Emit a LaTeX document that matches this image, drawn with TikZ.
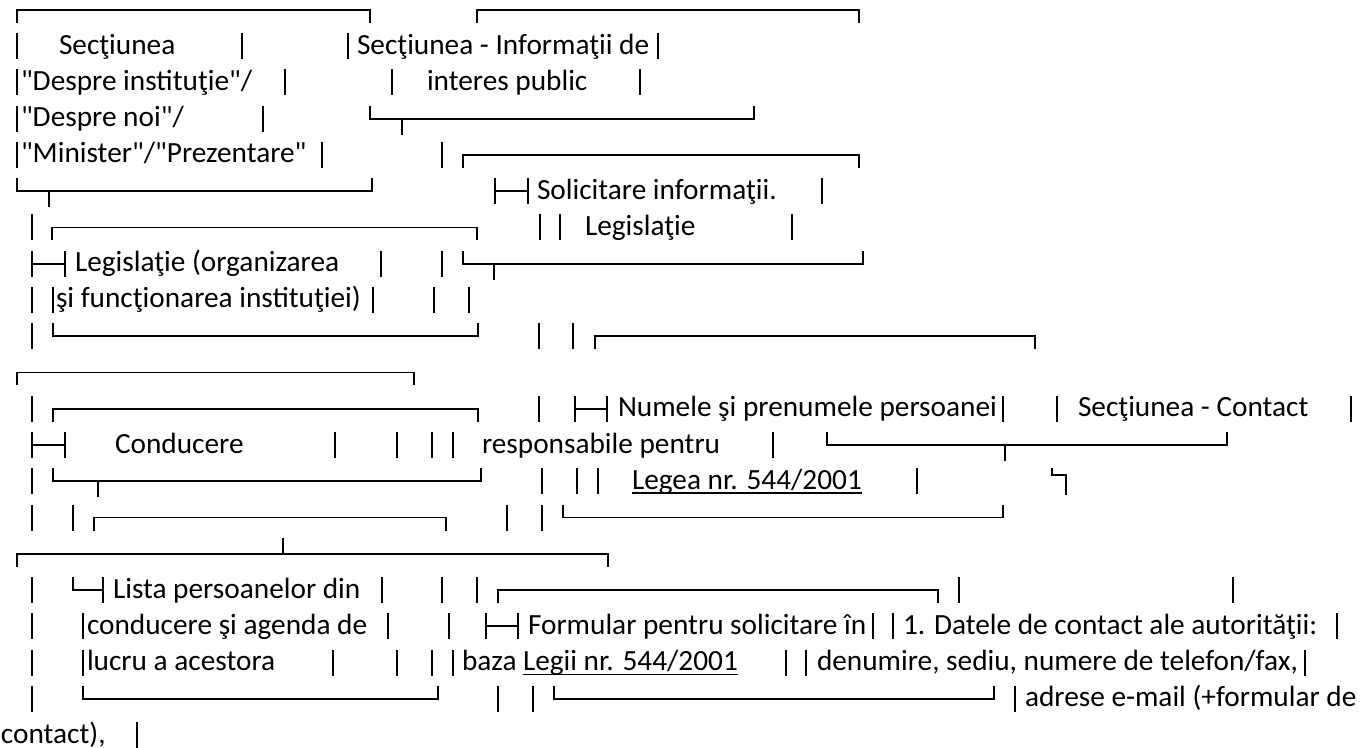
\documentclass[tikz,border=0pt]{standalone}
\usepackage{fontspec}
\setmainfont{Carlito}[Ligatures=TeXOff]

% one unit = one pixel of the text picture, rows run downwards
\newcommand\ry[1]{(10+36.25*(#1))}
\newcommand\glbar[2]{\draw[glyph] (#1,{\ry{#2}-13}) -- (#1,{\ry{#2}+13});}
\newcommand\gltop[3]{\draw[glyph] (#1,{\ry{#3}+13}) -- (#1,{\ry{#3}}) -- (#2,{\ry{#3}}) -- (#2,{\ry{#3}+13});}
\newcommand\glbot[3]{\draw[glyph] (#1,{\ry{#3}-13}) -- (#1,{\ry{#3}}) -- (#2,{\ry{#3}}) -- (#2,{\ry{#3}-13});}
\newcommand\gltee[2]{\draw[glyph] (#1,{\ry{#2}}) -- (#1,{\ry{#2}+16});}
\newcommand\glteeup[2]{\draw[glyph] (#1,{\ry{#2}-16}) -- (#1,{\ry{#2}});}
\newcommand\glbranch[3]{\glbar{#1}{#3}\glbar{#2}{#3}\draw[glyph] (#1,{\ry{#3}}) -- (#2,{\ry{#3}});}
\newcommand\gltext[4]{\node[txt] (#1) at (#2,{\ry{#3}+8}) {#4};}

\tikzset{
    glyph/.style={line width=0.9pt, line cap=butt},
    txt/.style={anchor=base west, inner sep=0pt, outer sep=0pt,
        font=\fontsize{14.65}{17}\selectfont},
    ulline/.style={line width=0.9pt}
}

\begin{document}
\begin{tikzpicture}[x=0.5pt, y=-0.5pt]
    \useasboundingbox (0,0) rectangle (1360,748);

    % row 0
    \gltop{17}{370}{0}
    \gltop{477}{859}{0}
    % row 1
    \glbar{17}{1} \gltext{secA}{59}{1}{Secţiunea} \glbar{242}{1}
    \glbar{348}{1} \gltext{secB}{357}{1}{Secţiunea - Informaţii de} \glbar{658}{1}
    % row 2
    \glbar{17}{2} \gltext{despreA}{21}{2}{"Despre instituţie"/} \glbar{285}{2}
    \glbar{392}{2} \gltext{interes}{427}{2}{interes public} \glbar{640}{2}
    % row 3
    \glbar{17}{3} \gltext{despreB}{21}{3}{"Despre noi"/} \glbar{263}{3}
    \glbot{370}{754}{3} \gltee{402}{3}
    % row 4
    \glbar{17}{4} \gltext{minister}{21}{4}{"Minister"/"Prezentare"} \glbar{322}{4}
    \glbar{442}{4} \gltop{463}{859}{4}
    % row 5
    \glbot{17}{372}{5} \gltee{49}{5}
    \glbranch{495}{528}{5} \gltext{solicit}{537}{5}{Solicitare informaţii.} \glbar{822}{5}
    % row 6
    \glbar{32}{6} \gltop{52}{477}{6}
    \glbar{540}{6} \glbar{560}{6} \gltext{legisA}{585}{6}{Legislaţie} \glbar{792}{6}
    % row 7
    \glbranch{32}{65}{7} \gltext{legisB}{75}{7}{Legislaţie (organizarea} \glbar{381}{7}
    \glbar{442}{7} \glbot{463}{863}{7} \gltee{494}{7}
    % row 8
    \glbar{32}{8} \glbar{53}{8} \gltext{functio}{56}{8}{şi funcţionarea instituţiei)} \glbar{373}{8}
    \glbar{434}{8} \glbar{469}{8}
    % row 9
    \glbar{32}{9} \glbot{53}{478}{9}
    \glbar{539}{9} \glbar{573}{9} \gltop{595}{1035}{9}
    % row 10
    \gltop{17}{414}{10}
    % row 11
    \glbar{32}{11} \gltop{53}{478}{11}
    \glbar{539}{11} \glbranch{575}{607}{11} \gltext{numele}{618}{11}{Numele şi prenumele persoanei} \glbar{1003}{11}
    \glbar{1057}{11} \gltext{contact}{1078}{11}{Secţiunea - Contact} \glbar{1351}{11}
    % row 12
    \glbranch{32}{65}{12} \gltext{conduc}{115}{12}{Conducere} \glbar{335}{12}
    \glbar{397}{12} \glbar{432}{12} \glbar{453}{12} \gltext{respons}{482}{12}{responsabile pentru} \glbar{773}{12}
    \glbot{827}{1227}{12} \gltee{1005}{12}
    % row 13
    \glbar{32}{13} \glbot{53}{481}{13} \gltee{98}{13}
    \glbar{542}{13} \glbar{577}{13} \glbar{598}{13} \gltext{legea}{632}{13}{Legea nr. 544/2001} \glbar{917}{13}
    \draw[ulline] ([yshift=-2pt]legea.base west) -- ([yshift=-2pt]legea.base east);
    \draw[glyph] (1052,{\ry{13}-13}) -- (1052,{\ry{13}-6}) -- (1066,{\ry{13}-6}) -- (1066,{\ry{13}+14});
    % row 14
    \glbar{32}{14} \glbar{73}{14} \gltop{94}{446}{14}
    \glbar{507}{14} \glbar{542}{14} \glbot{563}{1003}{14}
    % row 15
    \gltop{17}{608}{15} \glteeup{283}{15}
    % row 16
    \glbar{32}{16}
    \draw[glyph] (73,{\ry{16}-13}) -- (73,{\ry{16}}) -- (103,{\ry{16}}); \glbar{103}{16}
    \gltext{lista}{113}{16}{Lista persoanelor din} \glbar{382}{16}
    \glbar{442}{16} \glbar{477}{16} \gltop{498}{938}{16} \glbar{959}{16} \glbar{1233}{16}
    % row 17
    \glbar{32}{17} \glbar{83}{17} \gltext{agenda}{87}{17}{conducere şi agenda de} \glbar{388}{17}
    \glbar{449}{17} \glbranch{486}{518}{17} \gltext{formular}{528}{17}{Formular pentru solicitare în} \glbar{873}{17}
    \glbar{893}{17} \gltext{datele}{903}{17}{1. Datele de contact ale autorităţii:} \glbar{1337}{17}
    % row 18
    \glbar{32}{18} \glbar{83}{18} \gltext{lucru}{87}{18}{lucru a acestora} \glbar{333}{18}
    \glbar{397}{18} \glbar{432}{18} \glbar{453}{18} \gltext{baza}{462}{18}{baza}
    \gltext{legii}{523}{18}{Legii nr. 544/2001} \glbar{786}{18}
    \draw[ulline] ([yshift=-2pt]legii.base west) -- ([yshift=-2pt]legii.base east);
    \glbar{806}{18} \gltext{denumire}{817}{18}{denumire, sediu, numere de telefon/fax,} \glbar{1305}{18}
    % row 19
    \glbar{32}{19} \glbot{83}{438}{19}
    \glbar{498}{19} \glbar{533}{19} \glbot{554}{994}{19}
    \glbar{1015}{19} \gltext{adrese}{1025}{19}{adrese e-mail (+formular de}
    % row 20
    \gltext{contactend}{1}{20}{contact),} \glbar{137}{20}
\end{tikzpicture}
\end{document}
